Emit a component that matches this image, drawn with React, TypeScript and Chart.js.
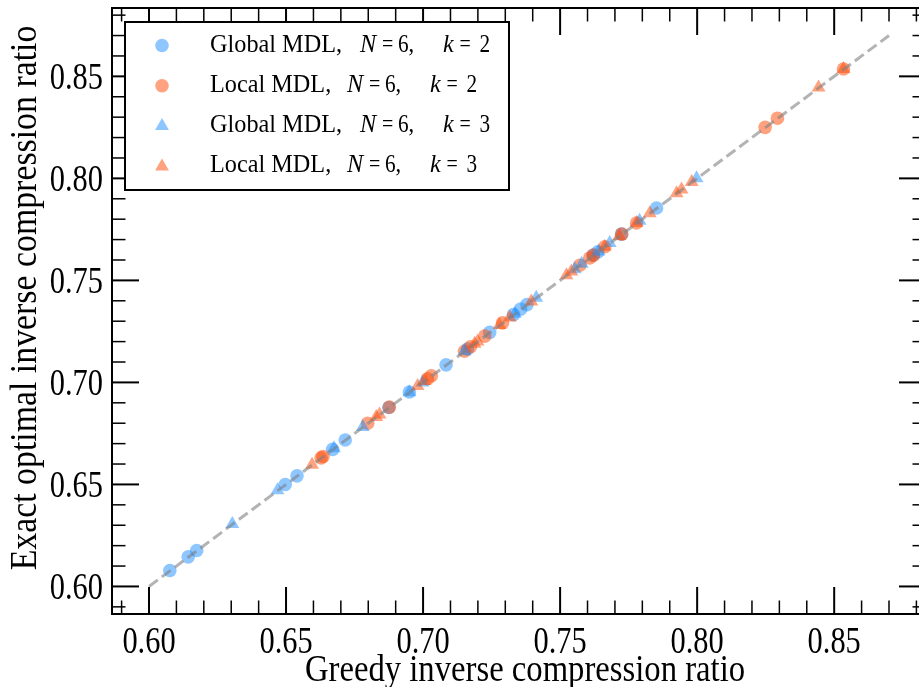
import React, { useEffect, useRef } from 'react';
import { Chart, registerables } from 'chart.js';
Chart.register(...registerables);

// ---------- data ----------
const globalK2X = [0.6076, 0.6143, 0.6174, 0.6497, 0.6540, 0.6670, 0.6716, 0.6875, 0.6950, 0.7084, 0.7162, 0.7243, 0.7330, 0.7356, 0.7379, 0.7620, 0.7638, 0.7724, 0.7852];
const globalK2Y = [0.6078, 0.6145, 0.6176, 0.6500, 0.6542, 0.6672, 0.6718, 0.6877, 0.6953, 0.7086, 0.7164, 0.7245, 0.7332, 0.7359, 0.7381, 0.7623, 0.7640, 0.7727, 0.7855];

const localK2X = [0.6628, 0.6635, 0.6798, 0.6877, 0.7016, 0.7030, 0.7151, 0.7173, 0.7225, 0.7290, 0.7572, 0.7608, 0.7622, 0.7663, 0.7725, 0.7779, 0.8248, 0.8293, 0.8534];
const localK2Y = [0.6630, 0.6637, 0.6800, 0.6879, 0.7018, 0.7032, 0.7153, 0.7175, 0.7227, 0.7292, 0.7574, 0.7610, 0.7624, 0.7665, 0.7727, 0.7781, 0.8250, 0.8295, 0.8536];

const globalK3X = [0.6304, 0.6469, 0.6675, 0.6780, 0.6950, 0.6998, 0.7151, 0.7335, 0.7413, 0.7553, 0.7579, 0.7640, 0.7681, 0.7790, 0.7998];
const globalK3Y = [0.6306, 0.6471, 0.6677, 0.6782, 0.6952, 0.7000, 0.7153, 0.7337, 0.7415, 0.7555, 0.7581, 0.7642, 0.7683, 0.7792, 0.8000];

const localK3X = [0.6595, 0.6829, 0.6841, 0.6980, 0.7005, 0.7188, 0.7199, 0.7279, 0.7316, 0.7395, 0.7523, 0.7541, 0.7663, 0.7716, 0.7779, 0.7827, 0.7925, 0.7943, 0.7980, 0.8443, 0.8534];
const localK3Y = [0.6597, 0.6831, 0.6843, 0.6982, 0.7007, 0.7190, 0.7201, 0.7281, 0.7318, 0.7397, 0.7525, 0.7543, 0.7665, 0.7718, 0.7781, 0.7829, 0.7927, 0.7945, 0.7982, 0.8445, 0.8536];

const refLineX = [0.6, 0.87];
const refLineY = [0.6, 0.87];

const axisMin = 0.5865;
const axisMax = 0.8835;
const majorTicks = [0.60, 0.65, 0.70, 0.75, 0.80, 0.85];
const majorTickLabels = ['0.60', '0.65', '0.70', '0.75', '0.80', '0.85'];
const minorTicks = [0.59, 0.61, 0.62, 0.63, 0.64, 0.66, 0.67, 0.68, 0.69, 0.71, 0.72, 0.73, 0.74, 0.76, 0.77, 0.78, 0.79, 0.81, 0.82, 0.83, 0.84, 0.86, 0.87, 0.88];

const xTitle = 'Greedy inverse compression ratio';
const yTitle = 'Exact optimal inverse compression ratio';

const legendNames = ['Global MDL,', 'Local MDL,', 'Global MDL,', 'Local MDL,'];
const legendN = ['6', '6', '6', '6'];
const legendK = ['2', '2', '3', '3'];

const BLUE = 'rgba(30,144,255,0.5)';
const ORANGE = 'rgba(255,69,0,0.5)';

const toPts = (xs: number[], ys: number[]) => xs.map((x, i) => ({ x, y: ys[i] }));

function drawText(ctx: CanvasRenderingContext2D, text: string, x: number, y: number, font: string, sx: number, align: CanvasTextAlign, rot = 0) {
  ctx.save();
  ctx.translate(x, y);
  if (rot) ctx.rotate(rot);
  ctx.scale(sx, 1);
  ctx.font = font;
  ctx.textAlign = align;
  ctx.textBaseline = 'alphabetic';
  ctx.fillStyle = '#000';
  ctx.fillText(text, 0, 0);
  ctx.restore();
}

const framePlugin = {
  id: 'frame',
  afterDraw(chart: any) {
    const { ctx, chartArea: a, scales } = chart;
    const xs = scales.x, ys = scales.y;
    ctx.save();
    ctx.strokeStyle = '#000';
    ctx.lineCap = 'butt';
    const MAJ = 27, MIN = 13.5;
    const tick = (x1: number, y1: number, x2: number, y2: number, w: number) => {
      ctx.lineWidth = w;
      ctx.beginPath(); ctx.moveTo(x1, y1); ctx.lineTo(x2, y2); ctx.stroke();
    };
    minorTicks.forEach(v => {
      const px = xs.getPixelForValue(v);
      tick(px, a.bottom, px, a.bottom - MIN, 1.5);
      tick(px, a.top, px, a.top + MIN, 1.5);
      const py = ys.getPixelForValue(v);
      tick(a.left, py, a.left + MIN, py, 1.5);
      tick(a.right, py, a.right - MIN, py, 1.5);
    });
    majorTicks.forEach(v => {
      const px = xs.getPixelForValue(v);
      tick(px, a.bottom, px, a.bottom - MAJ, 2);
      tick(px, a.top, px, a.top + MAJ, 2);
      const py = ys.getPixelForValue(v);
      tick(a.left, py, a.left + MAJ, py, 2);
      tick(a.right, py, a.right - MAJ, py, 2);
    });
    ctx.lineWidth = 2;
    ctx.strokeRect(a.left, a.top, a.right - a.left, a.bottom - a.top);

    const tickFont = '38px "Liberation Serif"';
    majorTicks.forEach((v, i) => {
      const px = xs.getPixelForValue(v);
      drawText(ctx, majorTickLabels[i], px, 653, tickFont, 0.8, 'center');
      const py = ys.getPixelForValue(v);
      drawText(ctx, majorTickLabels[i], 103, py + 13, tickFont, 0.8, 'right');
    });
    const titleFont = '38px "Liberation Serif"';
    drawText(ctx, xTitle, 525, 681, titleFont, 0.86, 'center');
    drawText(ctx, yTitle, 36, 298, titleFont, 0.89, 'center', -Math.PI / 2);

    // legend
    const L = 125, T = 22, R = 509, B = 190;
    ctx.fillStyle = '#fff';
    ctx.fillRect(L, T, R - L, B - T);
    ctx.lineWidth = 2;
    ctx.strokeStyle = '#000';
    ctx.strokeRect(L, T, R - L, B - T);
    const colors = [BLUE, ORANGE, BLUE, ORANGE];
    const styles = ['circle', 'circle', 'triangle', 'triangle'];
    const f = '25px "Liberation Serif"';
    const fi = 'italic 25px "Liberation Serif"';
    for (let i = 0; i < 4; i++) {
      const cy = 45.5 + i * 40.3;
      ctx.fillStyle = colors[i];
      ctx.beginPath();
      if (styles[i] === 'circle') {
        ctx.arc(162, cy, 6.8, 0, Math.PI * 2);
      } else {
        const r = 8;
        ctx.moveTo(162, cy - r);
        ctx.lineTo(162 + r * Math.sin(2 * Math.PI / 3), cy + r / 2);
        ctx.lineTo(162 - r * Math.sin(2 * Math.PI / 3), cy + r / 2);
        ctx.closePath();
      }
      ctx.fill();
      const base = cy + 6;
      drawText(ctx, legendNames[i], 210, base, f, 0.97, 'left');
      const nx = i % 2 === 0 ? 360 : 347;
      drawText(ctx, 'N', nx, base, fi, 0.97, 'left');
      drawText(ctx, '=', nx + 22, base, f, 0.8, 'left');
      drawText(ctx, legendN[i], nx + 38, base, f, 0.85, 'left');
      drawText(ctx, ',', nx + 48.5, base, f, 0.9, 'left');
      drawText(ctx, 'k', nx + 83, base, fi, 0.97, 'left');
      drawText(ctx, '=', nx + 99.5, base, f, 0.8, 'left');
      drawText(ctx, legendK[i], nx + 119.5, base, f, 0.85, 'left');
    }
    ctx.restore();
  },
};

export default function App() {
  const ref = useRef<HTMLCanvasElement>(null);
  useEffect(() => {
    const chart = new Chart(ref.current as HTMLCanvasElement, {
      type: 'scatter',
      data: {
        datasets: [
          {
            type: 'line',
            label: 'y = x',
            data: toPts(refLineX, refLineY),
            borderColor: 'rgba(128,128,128,0.6)',
            borderWidth: 3,
            borderDash: [11, 5],
            pointRadius: 0,
            fill: false,
            order: 0,
          } as any,
          {
            label: 'Global MDL, N=6, k=2',
            data: toPts(globalK2X, globalK2Y),
            backgroundColor: BLUE,
            pointBackgroundColor: BLUE,
            pointBorderWidth: 0,
            borderWidth: 0,
            pointStyle: 'circle',
            pointRadius: 6.8,
            order: 4,
          },
          {
            label: 'Local MDL, N=6, k=2',
            data: toPts(localK2X, localK2Y),
            backgroundColor: ORANGE,
            pointBackgroundColor: ORANGE,
            pointBorderWidth: 0,
            borderWidth: 0,
            pointStyle: 'circle',
            pointRadius: 6.8,
            order: 3,
          },
          {
            label: 'Global MDL, N=6, k=3',
            data: toPts(globalK3X, globalK3Y),
            backgroundColor: BLUE,
            pointBackgroundColor: BLUE,
            pointBorderWidth: 0,
            borderWidth: 0,
            pointStyle: 'triangle',
            pointRadius: 8,
            order: 2,
          },
          {
            label: 'Local MDL, N=6, k=3',
            data: toPts(localK3X, localK3Y),
            backgroundColor: ORANGE,
            pointBackgroundColor: ORANGE,
            pointBorderWidth: 0,
            borderWidth: 0,
            pointStyle: 'triangle',
            pointRadius: 8,
            order: 1,
          },
        ],
      },
      options: {
        responsive: false,
        animation: false,
        devicePixelRatio: 1,
        layout: { padding: { left: 112, right: 14, top: 8, bottom: 73 } },
        plugins: { legend: { display: false }, tooltip: { enabled: false } },
        scales: {
          x: { type: 'linear', min: axisMin, max: axisMax, display: false },
          y: { type: 'linear', min: axisMin, max: axisMax, display: false },
        },
      },
      plugins: [framePlugin],
    });
    return () => chart.destroy();
  }, []);
  return (
    <div style={{ position: 'fixed', left: 0, top: 0, width: 919, height: 687, overflow: 'hidden', background: '#fff' }}>
      <canvas ref={ref} width={940} height={687} style={{ width: 940, height: 687, display: 'block' }} />
    </div>
  );
}
